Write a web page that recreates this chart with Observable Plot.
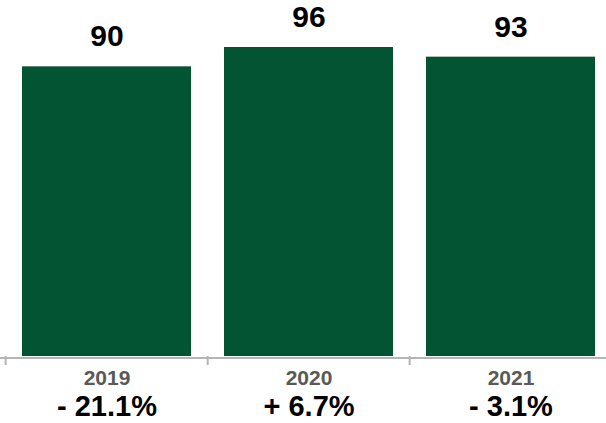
<!DOCTYPE html>
<html>
<head>
<meta charset="utf-8">
<script src="https://cdn.jsdelivr.net/npm/d3@7"></script>
<script src="https://cdn.jsdelivr.net/npm/@observablehq/plot@0.6"></script>
<style>
  html, body { margin: 0; padding: 0; background: #fff; }
  svg { display: block; }
</style>
</head>
<body>
<div id="chart"></div>
<script>
const years = ["2019", "2020", "2021"];
const values = [90, 96, 93];
const changes = [-21.1, 6.7, -3.1];

const data = years.map((y, i) => ({year: y, value: values[i], change: changes[i]}));
const fmtChange = c => (c < 0 ? "- " : "+ ") + Math.abs(c).toFixed(1) + "%";

const W = 606, H = 423;
const xRange = [4, 612];
const step = (xRange[1] - xRange[0]) / years.length;

const chart = Plot.plot({
  width: W,
  height: H,
  marginTop: 47,
  marginBottom: 67,
  marginLeft: 0,
  marginRight: 0,
  style: {fontFamily: "'Liberation Sans', Arial, Helvetica, sans-serif", background: "#fff"},
  x: {type: "band", domain: years, range: xRange, paddingInner: 0.165, paddingOuter: 0.0825, axis: null},
  y: {domain: [0, 96], axis: null},
  marks: [
    Plot.barY(data, {x: "year", y: "value", fill: "#035433"}),
    Plot.ruleY([0], {stroke: "#b5b5b5", strokeWidth: 2, dy: 1.5}),
    Plot.ruleX(data, {x: "year", y1: 0, y2: 0, insetBottom: -9, dx: -step / 2, stroke: "#b5b5b5", strokeWidth: 2}),
    Plot.text(data, {x: "year", y: "value", text: d => String(d.value), dy: -30, fontSize: 30, fontWeight: "bold", fill: "#000"}),
    Plot.text(data, {x: "year", y: 0, text: "year", dy: 22, fontSize: 21, fontWeight: "bold", fill: "#595959"}),
    Plot.text(data, {x: "year", y: 0, text: d => fmtChange(d.change), dy: 50, fontSize: 29, fontWeight: "bold", fill: "#000"})
  ]
});
document.getElementById("chart").appendChild(chart);
</script>
</body>
</html>
